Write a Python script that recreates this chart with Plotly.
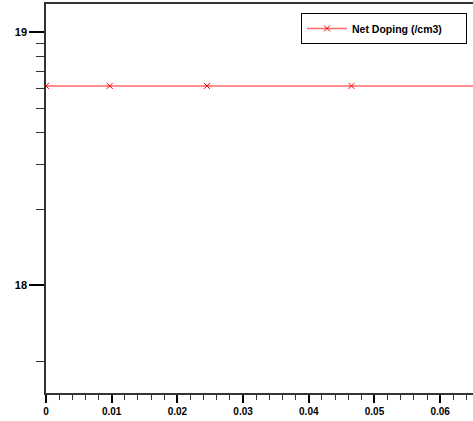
import plotly.graph_objects as go

# Data
x_vals = [0.0, 0.0097, 0.0245, 0.0465, 0.07]
y_vals = [6.14e18, 6.14e18, 6.14e18, 6.14e18, 6.14e18]
series_name = "Net Doping (/cm3)"

x_major = [0, 0.01, 0.02, 0.03, 0.04, 0.05, 0.06]
x_major_text = ["0", "0.01", "0.02", "0.03", "0.04", "0.05", "0.06"]
x_minor = [i * 0.002 for i in range(0, 33)]
y_major = [1e18, 1e19]
y_major_text = ["18", "19"]
y_minor = [5e17, 2e18, 3e18, 4e18, 5e18, 6e18, 7e18, 8e18, 9e18]

fig = go.Figure()
fig.add_trace(go.Scatter(
    x=x_vals, y=y_vals, mode="lines+markers", name=series_name,
    line=dict(color="#ff6a6a", width=1.5),
    marker=dict(symbol="x-thin", size=6, color="red", line=dict(color="red", width=1)),
))

font_fam = "Liberation Sans, Arial, sans-serif"
fig.update_layout(
    width=473, height=421,
    margin=dict(l=46, r=0, t=4, b=28, autoexpand=False),
    paper_bgcolor="white", plot_bgcolor="white",
    showlegend=True,
    legend=dict(
        x=0.986, y=0.977, xanchor="right", yanchor="top",
        orientation="h", entrywidth=109, itemwidth=40,
        bordercolor="black", borderwidth=1, bgcolor="white",
        font=dict(family=font_fam, size=10.5, color="black", weight="bold"),
    ),
    xaxis=dict(
        range=[0, 0.065], showgrid=False, zeroline=False, automargin=False,
        showline=True, linecolor="#333333", linewidth=1.5, mirror=True,
        tickmode="array", tickvals=x_major, ticktext=x_major_text,
        ticks="outside", ticklen=8, tickwidth=1.5, tickcolor="black",
        tickfont=dict(family=font_fam, size=10, color="black", weight="bold"),
        minor=dict(tickvals=x_minor, ticks="outside", ticklen=5, tickwidth=1, tickcolor="#333333"),
    ),
    yaxis=dict(
        type="log", range=[17.574, 19.112], showgrid=False, zeroline=False, automargin=False,
        showline=True, linecolor="#333333", linewidth=1.5,
        tickmode="array", tickvals=y_major, ticktext=y_major_text,
        ticks="outside", ticklen=15, tickwidth=1.5, tickcolor="black",
        tickfont=dict(family=font_fam, size=11, color="black", weight="bold"),
        minor=dict(tickvals=y_minor, ticks="outside", ticklen=8, tickwidth=1, tickcolor="#333333"),
    ),
)

fig.write_html("out.html", config={"displayModeBar": False},
               post_script="document.body.style.margin='0';document.body.style.padding='0';")
